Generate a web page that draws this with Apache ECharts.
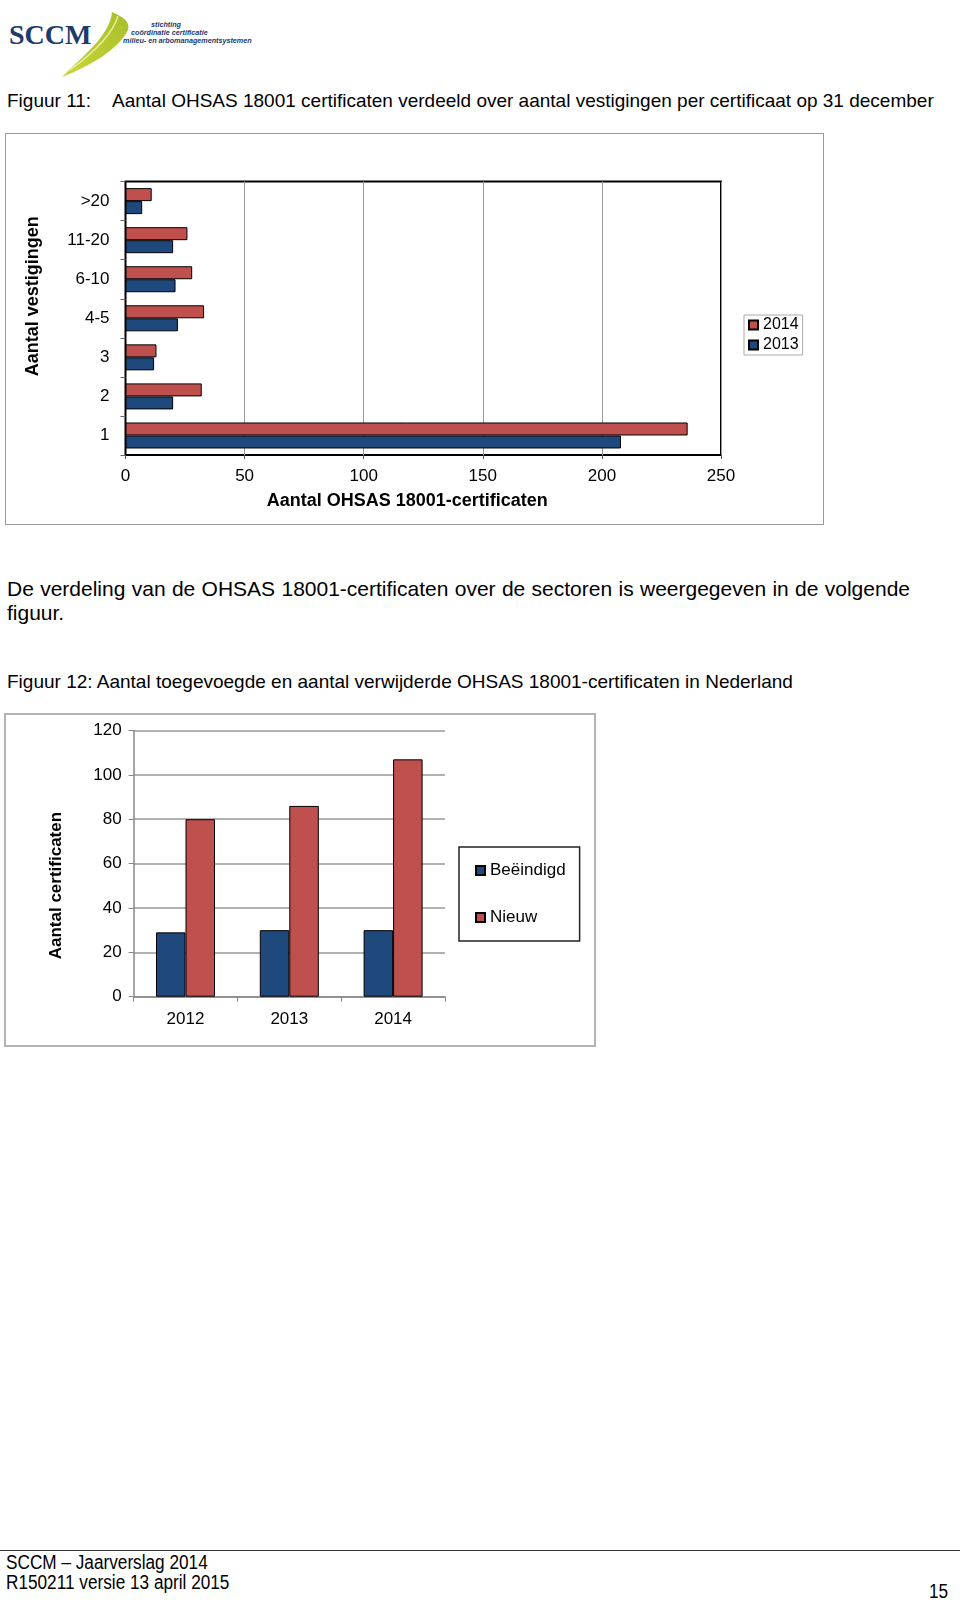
<!DOCTYPE html>
<html><head><meta charset="utf-8">
<script src="https://cdn.jsdelivr.net/npm/echarts@6.0.0/dist/echarts.min.js"></script>
<style>
html,body{margin:0;padding:0;background:#fff;}
body{width:960px;height:1600px;position:relative;font-family:"Liberation Sans",Arial,sans-serif;color:#000;overflow:hidden;}
.t{position:absolute;white-space:nowrap;font-size:19px;line-height:24px;}
.p{position:absolute;white-space:nowrap;font-size:21px;line-height:24px;}
.j{text-align:justify;text-align-last:justify;white-space:normal;}
#c1{position:absolute;left:6px;top:134px;width:817px;height:390px;outline:1px solid #999;}
#c2{position:absolute;left:6px;top:715px;width:588px;height:330px;outline:2px solid #b4b4b4;}
.foot{position:absolute;font-family:"Liberation Sans",Arial,sans-serif;font-size:20px;line-height:20px;white-space:nowrap;transform:scaleX(0.86);transform-origin:0 0;}
</style></head>
<body>
<svg style="position:absolute;left:0;top:0" width="260" height="80">
  <defs><linearGradient id="g" x1="0" y1="1" x2="1" y2="0">
    <stop offset="0" stop-color="#c9d63a"/><stop offset="1" stop-color="#a8bf2a"/></linearGradient></defs>
  <path d="M62,77 C84,55 110,35 112,12 C120,16 131,20 128,30 C118,50 90,66 62,77 Z" fill="url(#g)"/>
  <path d="M70,70 C92,54 112,36 118,16" stroke="#e8ee9a" stroke-width="1.5" fill="none"/>
  <text x="9" y="44" font-family="Liberation Serif,DejaVu Serif,serif" font-weight="bold" font-size="28" fill="#1d3c6b">SCCM</text>
  <g font-family="Liberation Sans,Arial" font-style="italic" font-weight="bold" font-size="7.2" fill="#1d3c6b">
    <text x="151" y="27">stichting</text>
    <text x="131" y="34.5">coördinatie certificatie</text>
    <text x="123" y="43">milieu- en arbomanagementsystemen</text>
  </g>
</svg>
<div class="t" style="left:7px;top:89px;">Figuur 11:</div>
<div class="t" style="left:112px;top:89px;">Aantal OHSAS 18001 certificaten verdeeld over aantal vestigingen per certificaat op 31 december</div>
<div id="c1"></div>
<div class="p j" style="left:7px;top:577px;width:903px;">De verdeling van de OHSAS 18001-certificaten over de sectoren is weergegeven in de volgende</div>
<div class="p" style="left:7px;top:601px;">figuur.</div>
<div class="t" style="left:7px;top:670px;">Figuur 12: Aantal toegevoegde en aantal verwijderde OHSAS 18001-certificaten in Nederland</div>
<div id="c2"></div>
<div style="position:absolute;left:0;top:1550px;width:960px;height:1px;background:#333;"></div>
<div class="foot" style="left:6px;top:1552px;">SCCM – Jaarverslag 2014</div>
<div class="foot" style="left:6px;top:1572px;">R150211 versie 13 april 2015</div>
<div class="foot" style="left:929px;top:1581px;">15</div>
<script>
// Figuur 11 data
const vestCategories = ['1', '2', '3', '4-5', '6-10', '11-20', '>20'];
const cert2013 = [208, 20, 12, 22, 21, 20, 7];
const cert2014 = [236, 32, 13, 33, 28, 26, 11];
const xTicks1 = { min: 0, max: 250, interval: 50 };

// Figuur 12 data
const years = ['2012', '2013', '2014'];
const beeindigd = [29, 30, 30];
const nieuw = [80, 86, 107];
const yTicks2 = { min: 0, max: 120, interval: 20 };

const RED = '#C0504D', BLUE = '#1F497D';
const FF = '"Liberation Sans", Arial, sans-serif';

const c1 = echarts.init(document.getElementById('c1'), null, {renderer: 'canvas'});
c1.setOption({
  animation: false,
  textStyle: {fontFamily: FF},
  grid: {left: 119.5, top: 47.6, width: 595.5, height: 273.4, show: true, borderColor: '#000', borderWidth: 2, containLabel: false},
  legend: {
    data: ['2014', '2013'], orient: 'vertical', left: 738, top: 181,
    padding: [2, 4, 2, 4], itemGap: 4, itemWidth: 9, itemHeight: 9, icon: 'rect',
    borderColor: '#aaa', borderWidth: 1,
    textStyle: {fontSize: 16, color: '#000', fontFamily: FF}
  },
  xAxis: {
    type: 'value', min: xTicks1.min, max: xTicks1.max, interval: xTicks1.interval,
    axisLine: {show: false},
    axisTick: {show: true, length: 4, lineStyle: {color: '#555'}},
    splitLine: {show: true, lineStyle: {color: '#999', width: 1}},
    axisLabel: {fontSize: 17, color: '#000', margin: 13, fontFamily: FF},
    name: 'Aantal OHSAS 18001-certificaten', nameLocation: 'middle', nameGap: 37,
    nameTextStyle: {fontSize: 18, fontWeight: 'bold', color: '#000', padding: [0, 32, 0, 0], fontFamily: FF}
  },
  yAxis: {
    type: 'category', data: vestCategories,
    axisLine: {show: true, lineStyle: {color: '#000', width: 1}},
    axisTick: {show: true, length: 5, lineStyle: {color: '#666'}},
    axisLabel: {fontSize: 17, color: '#000', margin: 16, fontFamily: FF},
    name: 'Aantal vestigingen', nameLocation: 'middle', nameGap: 83, nameRotate: 90,
    nameTextStyle: {fontSize: 18, fontWeight: 'bold', color: '#000', padding: [0, 0, 0, 44], fontFamily: FF}
  },
  series: [
    {name: '2014', type: 'bar', data: cert2014, barWidth: 13, barGap: '0%',
     itemStyle: {color: RED, borderColor: '#000', borderWidth: 1}},
    {name: '2013', type: 'bar', data: cert2013, barWidth: 13, barGap: '0%',
     itemStyle: {color: BLUE, borderColor: '#000', borderWidth: 1}}
  ]
});

const c2 = echarts.init(document.getElementById('c2'), null, {renderer: 'canvas'});
c2.setOption({
  animation: false,
  textStyle: {fontFamily: FF},
  grid: {left: 127.6, top: 15.5, width: 311.4, height: 266.2, containLabel: false},
  legend: {
    data: ['Beëindigd', 'Nieuw'], orient: 'vertical', left: 453, top: 132,
    padding: [15, 14, 15, 16], itemGap: 30, itemWidth: 9, itemHeight: 9, icon: 'rect',
    borderColor: '#222', borderWidth: 1.5,
    textStyle: {fontSize: 17, color: '#000', fontFamily: FF}
  },
  xAxis: {
    type: 'category', data: years,
    axisLine: {show: true, lineStyle: {color: '#888', width: 1.5}},
    axisTick: {show: true, length: 5, lineStyle: {color: '#888'}},
    axisLabel: {fontSize: 17, color: '#000', margin: 14, fontFamily: FF}
  },
  yAxis: {
    type: 'value', min: yTicks2.min, max: yTicks2.max, interval: yTicks2.interval,
    axisLine: {show: true, lineStyle: {color: '#888', width: 1.5}},
    axisTick: {show: true, length: 5, lineStyle: {color: '#888'}},
    splitLine: {show: true, lineStyle: {color: '#999', width: 1.5}},
    axisLabel: {fontSize: 17, color: '#000', margin: 12, fontFamily: FF},
    name: 'Aantal certificaten', nameLocation: 'middle', nameGap: 69, nameRotate: 90,
    nameTextStyle: {fontSize: 17, fontWeight: 'bold', color: '#000', padding: [0, 44, 0, 0], fontFamily: FF}
  },
  series: [
    {name: 'Beëindigd', type: 'bar', data: beeindigd, barWidth: 29.5, barGap: '0%',
     itemStyle: {color: BLUE, borderColor: '#000', borderWidth: 1}},
    {name: 'Nieuw', type: 'bar', data: nieuw, barWidth: 29.5, barGap: '0%',
     itemStyle: {color: RED, borderColor: '#000', borderWidth: 1}}
  ]
});
</script>
</body></html>
